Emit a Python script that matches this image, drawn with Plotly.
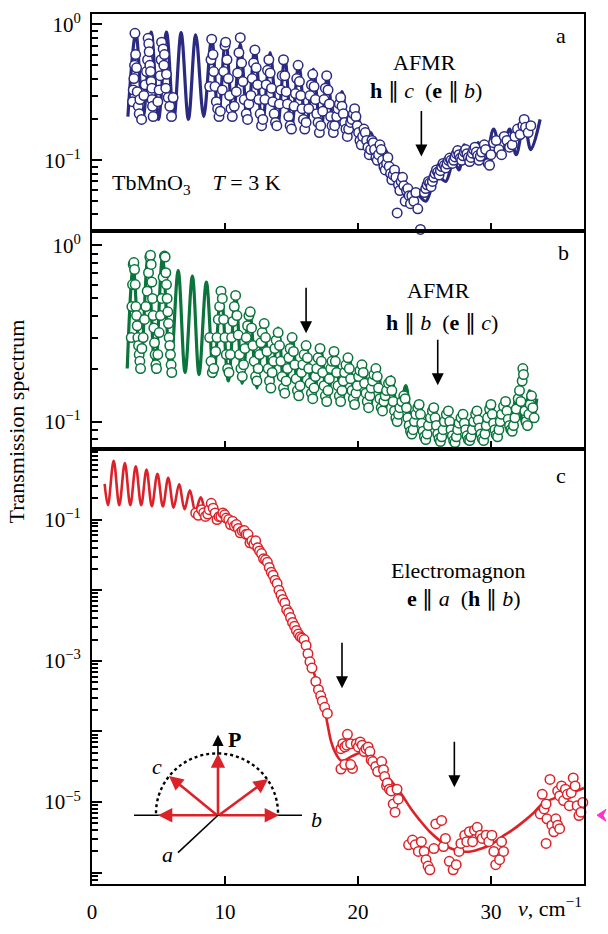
import plotly.graph_objects as go

# ------------------------------------------------------------------ data
# Panel a : AFMR  h || c (e || b)   -- fitted curve (peaks / troughs of fringes)
a_line_x = [2.7, 3.3, 3.85, 4.45, 5.0, 5.6, 6.15, 6.7, 7.25, 7.8, 8.4, 9.0, 9.5, 10.05, 10.6,
            11.15, 11.7, 12.25, 12.8, 13.4, 13.95, 14.5, 15.0, 15.55, 16.1, 16.65, 17.2, 17.7,
            18.25, 18.8, 19.35, 19.9, 20.4, 20.95, 21.5, 22.05, 22.6, 23.1, 23.6, 24.0, 24.5,
            25.1, 25.6, 26.1, 26.6, 27.2, 27.6, 28.0, 28.5, 29.05, 29.6, 30.2, 30.8, 31.4, 31.9,
            32.5, 33.0, 33.7]
a_line_y = [0.21, 0.86, 0.21, 0.88, 0.2, 0.88, 0.2, 0.87, 0.2, 0.84, 0.21, 0.8, 0.2, 0.78, 0.2,
            0.72, 0.19, 0.68, 0.18, 0.62, 0.175, 0.57, 0.17, 0.51, 0.165, 0.47, 0.16, 0.41,
            0.155, 0.32, 0.15, 0.24, 0.14, 0.16, 0.115, 0.12, 0.085, 0.08, 0.052, 0.047, 0.055,
            0.05, 0.065, 0.075, 0.07, 0.1, 0.085, 0.13, 0.093, 0.135, 0.1, 0.17, 0.11, 0.17, 0.11,
            0.19, 0.12, 0.2]

# measured points (x, T)
a_pts_left = [(3.05, 0.27), (3.1, 0.33), (3.15, 0.4), (3.2, 0.5), (3.23, 0.86), (3.28, 0.6),
              (3.35, 0.48), (3.4, 0.32), (3.48, 0.25), (3.55, 0.22), (3.6, 0.28), (3.73, 0.2),
              (3.9, 0.3), (4.0, 0.36), (4.1, 0.45), (4.18, 0.55), (4.22, 0.79), (4.27, 0.72),
              (4.3, 0.63), (4.35, 0.5), (4.4, 0.45), (4.45, 0.38), (4.5, 0.34), (4.52, 0.28),
              (4.55, 0.25), (4.6, 0.21), (4.95, 0.27), (5.05, 0.33), (5.13, 0.42), (5.2, 0.55),
              (5.23, 0.74), (5.35, 0.66), (5.45, 0.6), (5.4, 0.5), (5.6, 0.43), (5.55, 0.34),
              (5.73, 0.29), (5.85, 0.25), (5.98, 0.21), (6.1, 0.29)]
a_pts_fringes = [(8.85, 0.35), (8.95, 0.55), (9.0, 0.78), (9.1, 0.6), (9.15, 0.45), (9.25, 0.35),
                 (9.35, 0.27), (9.45, 0.24), (9.55, 0.21), (9.65, 0.23),
                 (9.8, 0.33), (9.9, 0.45), (10.0, 0.7), (10.05, 0.74), (10.15, 0.55), (10.25, 0.4),
                 (10.35, 0.3), (10.45, 0.24), (10.55, 0.21), (10.7, 0.25),
                 (10.85, 0.32), (10.95, 0.44), (11.05, 0.62), (11.15, 0.8), (11.25, 0.52),
                 (11.35, 0.38), (11.45, 0.28), (11.6, 0.22), (11.7, 0.2), (11.8, 0.26),
                 (11.95, 0.3), (12.05, 0.4), (12.15, 0.52), (12.25, 0.65), (12.35, 0.48),
                 (12.45, 0.36), (12.55, 0.28), (12.65, 0.22), (12.75, 0.18), (12.85, 0.2),
                 (13.0, 0.28), (13.1, 0.36), (13.2, 0.46), (13.3, 0.55), (13.4, 0.44), (13.5, 0.34),
                 (13.6, 0.27), (13.7, 0.22), (13.8, 0.19), (13.9, 0.18),
                 (14.1, 0.26), (14.2, 0.33), (14.3, 0.42), (14.4, 0.55), (14.5, 0.42), (14.6, 0.32),
                 (14.7, 0.26), (14.8, 0.21), (14.9, 0.18), (15.0, 0.17),
                 (15.2, 0.25), (15.3, 0.31), (15.4, 0.4), (15.5, 0.5), (15.6, 0.38), (15.7, 0.3),
                 (15.8, 0.24), (15.9, 0.2), (16.0, 0.17), (16.1, 0.19),
                 (16.3, 0.24), (16.4, 0.3), (16.5, 0.36), (16.6, 0.43), (16.7, 0.35), (16.8, 0.28),
                 (16.9, 0.22), (17.0, 0.19), (17.1, 0.16), (17.2, 0.18),
                 (17.35, 0.23), (17.45, 0.28), (17.55, 0.34), (17.65, 0.42), (17.75, 0.33),
                 (17.85, 0.26), (17.95, 0.21), (18.05, 0.18), (18.15, 0.16), (18.25, 0.18),
                 (18.4, 0.21), (18.5, 0.24), (18.6, 0.26), (18.7, 0.29), (18.8, 0.25), (18.9, 0.22),
                 (19.0, 0.19), (19.1, 0.17), (19.2, 0.15), (19.3, 0.17),
                 (19.45, 0.19), (19.55, 0.2), (19.65, 0.22), (19.75, 0.24), (19.85, 0.21),
                 (19.95, 0.18), (20.05, 0.16), (20.15, 0.14), (20.25, 0.13)]
a_pts_dip = [(20.35, 0.15), (20.45, 0.17), (20.55, 0.16), (20.65, 0.14), (20.75, 0.125),
             (20.85, 0.11), (20.95, 0.12), (21.05, 0.14), (21.15, 0.135), (21.25, 0.12),
             (21.35, 0.105), (21.45, 0.1), (21.55, 0.11), (21.65, 0.13), (21.75, 0.12), (21.85, 0.1),
             (21.95, 0.09), (22.05, 0.085), (22.15, 0.095), (22.25, 0.105), (22.35, 0.09),
             (22.45, 0.08), (22.55, 0.072), (22.65, 0.078), (22.75, 0.085), (22.85, 0.075),
             (22.95, 0.041), (23.05, 0.066), (23.15, 0.06), (23.25, 0.07), (23.35, 0.075),
             (23.45, 0.065), (23.55, 0.05), (23.65, 0.06), (23.75, 0.062), (23.85, 0.055),
             (23.95, 0.048), (24.05, 0.055), (24.2, 0.05), (24.35, 0.058), (24.5, 0.044),
             (24.7, 0.031)]
a_pts_rise = [(25.0, 0.058), (25.1, 0.062), (25.2, 0.066), (25.3, 0.07), (25.4, 0.068),
              (25.5, 0.064), (25.6, 0.07), (25.7, 0.075), (25.8, 0.08), (25.9, 0.085), (26.0, 0.082),
              (26.1, 0.078), (26.2, 0.084), (26.3, 0.09), (26.4, 0.095), (26.5, 0.092), (26.6, 0.088),
              (26.7, 0.094), (26.8, 0.1), (26.9, 0.104), (27.0, 0.1), (27.1, 0.095), (27.2, 0.1),
              (27.3, 0.106), (27.4, 0.112), (27.5, 0.118), (27.6, 0.11), (27.7, 0.104), (27.8, 0.1),
              (27.9, 0.108), (28.0, 0.115), (28.1, 0.12), (28.2, 0.112), (28.3, 0.105), (28.4, 0.098),
              (28.5, 0.105), (28.6, 0.113), (28.7, 0.12), (28.8, 0.125), (28.9, 0.115), (29.0, 0.108),
              (29.1, 0.1), (29.2, 0.107), (29.3, 0.115), (29.5, 0.13), (29.6, 0.12), (29.8, 0.095),
              (29.9, 0.092), (30.0, 0.11), (30.2, 0.135), (30.4, 0.14), (30.6, 0.12), (30.8, 0.11),
              (31.0, 0.15), (31.2, 0.14), (31.4, 0.125), (31.6, 0.13), (31.8, 0.15), (32.0, 0.17),
              (32.2, 0.155), (32.4, 0.18), (32.5, 0.2), (32.6, 0.175), (32.8, 0.16), (33.0, 0.18)]

# Panel b : AFMR  h || b (e || c)
b_line_x = [2.65, 3.1, 3.65, 4.2, 4.75, 5.3, 5.9, 6.48, 7.0, 7.55, 8.05, 8.6, 9.15, 9.7, 10.25,
            10.8, 11.3, 11.85, 12.4, 12.9, 13.45, 14.0, 14.5, 15.05, 15.55, 16.1, 16.65, 17.2,
            17.7, 18.25, 18.8, 19.3, 19.85, 20.4, 20.9, 21.45, 22.0, 22.5, 23.05, 23.6, 24.1,
            24.6, 25.1, 25.6, 26.15, 26.7, 27.2, 27.75, 28.25, 28.8, 29.3, 29.85, 30.35, 30.9,
            31.4, 31.95, 32.45, 32.9, 33.2, 33.45]
b_line_y = [0.2, 0.75, 0.2, 0.85, 0.19, 0.85, 0.19, 0.72, 0.19, 0.67, 0.185, 0.62, 0.18, 0.55, 0.17,
            0.52, 0.165, 0.43, 0.155, 0.37, 0.15, 0.34, 0.14, 0.3, 0.135, 0.27, 0.13, 0.26,
            0.13, 0.25, 0.128, 0.24, 0.125, 0.22, 0.12, 0.2, 0.115, 0.18, 0.105, 0.16, 0.09,
            0.12, 0.083, 0.12, 0.08, 0.115, 0.08, 0.115, 0.08, 0.12, 0.082, 0.125, 0.085, 0.13,
            0.09, 0.14, 0.095, 0.15, 0.105, 0.135]

b_pts_left = [(2.95, 0.3), (3.0, 0.45), (3.05, 0.6), (3.1, 0.78), (3.15, 0.8), (3.2, 0.73),
              (3.25, 0.6), (3.3, 0.45), (3.35, 0.4), (3.4, 0.35), (3.45, 0.3), (3.5, 0.27),
              (3.55, 0.24), (3.6, 0.22), (3.65, 0.2), (3.75, 0.26), (3.85, 0.3),
              (3.95, 0.38), (4.05, 0.45), (4.15, 0.55), (4.25, 0.7), (4.35, 0.86), (4.4, 0.88),
              (4.45, 0.78), (4.5, 0.62), (4.55, 0.5), (4.6, 0.4), (4.65, 0.34), (4.7, 0.28),
              (4.75, 0.24), (4.8, 0.21), (4.85, 0.2), (4.95, 0.24),
              (5.05, 0.32), (5.15, 0.4), (5.25, 0.5), (5.35, 0.66), (5.45, 0.87), (5.5, 0.86),
              (5.55, 0.7), (5.6, 0.6), (5.65, 0.5), (5.7, 0.42), (5.75, 0.36), (5.8, 0.3),
              (5.85, 0.27), (5.9, 0.24), (5.95, 0.21), (6.0, 0.19)]
b_pts_right = [(8.85, 0.3), (8.95, 0.22), (9.05, 0.19), (9.15, 0.2), (9.3, 0.25), (9.4, 0.3),
               (9.5, 0.38), (9.6, 0.45), (9.7, 0.55), (9.8, 0.5), (9.9, 0.38), (10.0, 0.3),
               (10.1, 0.24), (10.2, 0.2),
               (10.3, 0.19), (10.4, 0.24), (10.5, 0.3), (10.6, 0.37), (10.7, 0.45), (10.8, 0.52),
               (10.9, 0.4), (11.0, 0.31), (11.1, 0.24), (11.2, 0.2), (11.3, 0.18),
               (11.4, 0.21), (11.5, 0.26), (11.6, 0.3), (11.7, 0.35), (11.8, 0.4), (11.9, 0.42),
               (12.0, 0.34), (12.1, 0.27), (12.2, 0.22), (12.3, 0.18), (12.4, 0.17),
               (12.5, 0.2), (12.6, 0.24), (12.7, 0.28), (12.8, 0.32), (12.95, 0.36), (13.05, 0.3),
               (13.15, 0.25), (13.25, 0.2), (13.35, 0.17), (13.45, 0.155),
               (13.55, 0.19), (13.65, 0.22), (13.75, 0.26), (13.85, 0.29), (14.0, 0.32), (14.1, 0.27),
               (14.2, 0.22), (14.3, 0.18), (14.4, 0.155), (14.5, 0.145),
               (14.6, 0.17), (14.7, 0.2), (14.8, 0.23), (14.9, 0.26), (15.05, 0.3), (15.15, 0.25),
               (15.25, 0.21), (15.35, 0.175), (15.45, 0.15), (15.55, 0.14),
               (15.65, 0.16), (15.75, 0.19), (15.85, 0.21), (15.95, 0.24), (16.1, 0.27), (16.2, 0.23),
               (16.3, 0.2), (16.4, 0.165), (16.5, 0.145), (16.6, 0.135),
               (16.7, 0.155), (16.8, 0.18), (16.9, 0.2), (17.0, 0.23), (17.15, 0.26), (17.25, 0.22),
               (17.35, 0.19), (17.45, 0.16), (17.55, 0.14), (17.65, 0.13),
               (17.75, 0.15), (17.85, 0.175), (17.95, 0.2), (18.05, 0.22), (18.2, 0.25), (18.3, 0.22),
               (18.4, 0.19), (18.5, 0.16), (18.6, 0.14), (18.7, 0.13),
               (18.8, 0.15), (18.9, 0.17), (19.0, 0.19), (19.1, 0.21), (19.25, 0.23), (19.35, 0.2),
               (19.45, 0.175), (19.55, 0.15), (19.65, 0.135), (19.75, 0.125),
               (19.85, 0.145), (19.95, 0.16), (20.05, 0.18), (20.15, 0.195), (20.3, 0.21), (20.4, 0.19),
               (20.5, 0.165), (20.6, 0.145), (20.7, 0.13), (20.8, 0.12),
               (20.9, 0.14), (21.0, 0.155), (21.1, 0.17), (21.2, 0.185), (21.35, 0.2), (21.45, 0.18),
               (21.55, 0.155), (21.65, 0.135), (21.75, 0.12), (21.85, 0.115),
               (21.95, 0.13), (22.05, 0.14), (22.15, 0.15), (22.3, 0.165), (22.45, 0.17), (22.55, 0.15),
               (22.65, 0.13), (22.75, 0.115), (22.85, 0.105), (22.95, 0.1),
               (23.05, 0.11), (23.15, 0.12), (23.3, 0.13), (23.45, 0.14), (23.55, 0.135), (23.65, 0.12),
               (23.75, 0.105), (23.85, 0.095), (23.95, 0.088), (24.05, 0.085),
               (24.15, 0.09), (24.25, 0.1), (24.35, 0.11), (24.5, 0.12), (24.6, 0.125), (24.7, 0.11),
               (24.8, 0.098), (24.9, 0.088), (25.0, 0.082), (25.1, 0.079),
               (25.2, 0.085), (25.3, 0.095), (25.45, 0.105), (25.6, 0.115), (25.7, 0.12), (25.8, 0.105),
               (25.9, 0.095), (26.0, 0.085), (26.1, 0.08), (26.2, 0.077),
               (26.3, 0.082), (26.4, 0.09), (26.5, 0.1), (26.65, 0.11), (26.8, 0.115), (26.9, 0.1),
               (27.0, 0.09), (27.1, 0.083), (27.2, 0.078), (27.3, 0.076),
               (27.4, 0.082), (27.5, 0.09), (27.6, 0.098), (27.75, 0.105), (27.9, 0.11), (28.0, 0.098),
               (28.1, 0.09), (28.2, 0.083), (28.3, 0.079), (28.4, 0.078),
               (28.5, 0.082), (28.6, 0.09), (28.7, 0.1), (28.85, 0.11), (28.95, 0.115), (29.05, 0.102),
               (29.15, 0.092), (29.25, 0.085), (29.35, 0.08), (29.45, 0.078),
               (29.55, 0.085), (29.65, 0.095), (29.75, 0.105), (29.9, 0.118), (30.0, 0.125), (30.1, 0.11),
               (30.2, 0.098), (30.3, 0.09), (30.4, 0.084), (30.5, 0.082),
               (30.6, 0.09), (30.7, 0.1), (30.8, 0.11), (30.95, 0.122), (31.1, 0.13), (31.2, 0.115),
               (31.3, 0.103), (31.4, 0.095), (31.5, 0.09), (31.6, 0.088),
               (31.7, 0.095), (31.8, 0.105), (31.9, 0.118), (32.05, 0.135), (32.15, 0.15), (32.25, 0.13),
               (32.35, 0.17), (32.4, 0.2), (32.45, 0.185), (32.55, 0.115), (32.65, 0.1), (32.75, 0.095),
               (32.85, 0.11), (32.95, 0.125), (33.05, 0.14), (33.15, 0.12), (33.25, 0.105)]

# Panel c : Electromagnon  e || a (h || b)
c_line_x = [0.95, 1.2, 1.63, 2.05, 2.47, 2.88, 3.29, 3.7, 4.1, 4.5, 4.92, 5.33, 5.73, 6.14, 6.55,
            6.96, 7.36, 7.77, 8.18, 8.6, 9.4, 10.5, 11.5, 12.3, 13.0, 13.6, 14.2, 14.8, 15.3,
            15.8, 16.3, 16.8, 17.1, 17.4, 17.7, 18.0, 18.3, 18.7, 19.0, 19.4, 19.9, 20.3, 20.8,
            21.3, 21.9, 22.5, 23.2, 24.0, 24.6, 25.4, 26.2, 27.0, 27.8, 28.5, 29.3, 30.0, 30.9,
            31.6, 32.4, 33.2, 33.9, 34.7, 35.4, 36.2, 37.0]
c_line_y = [0.32, 0.16, 0.68, 0.16, 0.63, 0.16, 0.57, 0.16, 0.51, 0.155, 0.446, 0.153, 0.39, 0.148,
            0.316, 0.14, 0.26, 0.13, 0.207, 0.125, 0.11, 0.092, 0.07, 0.048, 0.028, 0.016, 0.0095,
            0.0058, 0.0037, 0.0022, 0.0012, 0.00058, 0.00038, 0.00025, 0.00013, 7e-5, 5e-5,
            3.9e-5, 3.9e-5, 4.3e-5, 4.8e-5, 5.0e-5, 4.4e-5, 3.4e-5, 2.6e-5, 2.0e-5, 1.35e-5,
            8e-6, 5.7e-6, 3.8e-6, 2.8e-6, 2.2e-6, 2.0e-6, 2.0e-6, 2.2e-6, 2.5e-6, 3.3e-6,
            4.0e-6, 5.2e-6, 7e-6, 9.6e-6, 1.12e-5, 1.22e-5, 1.38e-5, 1.58e-5]

c_pts_fall = [(7.8, 0.124), (8.0, 0.115), (8.24, 0.138), (8.4, 0.125), (8.53, 0.111), (8.7, 0.12),
              (8.82, 0.138), (8.97, 0.17), (9.11, 0.145), (9.26, 0.124), (9.4, 0.1), (9.55, 0.11),
              (9.69, 0.111), (9.84, 0.124), (9.98, 0.117), (10.1, 0.105), (10.28, 0.1),
              (10.42, 0.085), (10.57, 0.095), (10.71, 0.081), (10.86, 0.085), (11.0, 0.075),
              (11.15, 0.065), (11.3, 0.069), (11.45, 0.07), (11.59, 0.062), (11.73, 0.062),
              (11.88, 0.047), (12.02, 0.05), (12.17, 0.045), (12.31, 0.05), (12.46, 0.04),
              (12.6, 0.036), (12.75, 0.033), (12.9, 0.028), (13.05, 0.027), (13.19, 0.025),
              (13.33, 0.021), (13.48, 0.018), (13.62, 0.0163), (13.77, 0.0139), (13.92, 0.0125),
              (14.06, 0.01), (14.21, 0.0086), (14.35, 0.0074), (14.5, 0.0066), (14.64, 0.0053),
              (14.79, 0.0048), (14.93, 0.0041), (15.08, 0.0035), (15.23, 0.0031), (15.37, 0.0027),
              (15.52, 0.0024), (15.66, 0.0022), (15.8, 0.0021), (15.95, 0.002), (16.1, 0.00165),
              (16.24, 0.00126), (16.39, 0.00097), (16.54, 0.00079), (16.83, 0.00051),
              (17.03, 0.00039), (17.2, 0.00032), (17.32, 0.00027), (17.5, 0.00022), (17.7, 0.00018)]
c_pts_bump = [(18.72, 5.7e-5), (18.72, 2.94e-5), (18.86, 6.7e-5), (19.01, 6.05e-5), (19.16, 6.4e-5),
              (19.21, 9.1e-5), (19.45, 6.7e-5), (19.59, 3.0e-5), (19.01, 3.4e-5), (19.45, 3.4e-5),
              (19.88, 6.7e-5), (20.03, 6.05e-5), (20.17, 7.1e-5), (20.32, 6.4e-5), (20.47, 5.2e-5),
              (20.61, 5.7e-5), (20.76, 6.05e-5), (20.9, 5.2e-5), (20.99, 3.95e-5), (21.11, 3.75e-5),
              (21.34, 3.2e-5), (21.48, 2.7e-5), (21.78, 3.75e-5), (21.92, 2.87e-5), (22.01, 2.3e-5),
              (22.15, 1.69e-5), (22.21, 1.87e-5), (22.36, 1.52e-5), (22.5, 1.44e-5), (22.65, 9.4e-6),
              (22.79, 7.2e-6), (22.94, 1.52e-5), (23.03, 1.1e-5)]
c_pts_min = [(23.81, 2.48e-6), (24.1, 2.9e-6), (24.31, 2.48e-6), (24.54, 2.0e-6), (24.77, 2.75e-6),
             (24.98, 2.0e-6), (25.12, 1.53e-6), (25.27, 1.24e-6), (25.41, 1.1e-6), (25.71, 2.2e-6),
             (25.85, 4.9e-6), (26.29, 5.5e-6), (26.43, 2.35e-6), (26.58, 3.06e-6), (26.87, 1.45e-6),
             (27.16, 1.1e-6), (27.39, 1.3e-6), (27.6, 2.0e-6), (27.74, 2.6e-6), (28.03, 3.4e-6),
             (28.18, 2.75e-6), (28.38, 3.8e-6), (28.62, 2.75e-6), (28.76, 4.0e-6), (28.97, 4.4e-6),
             (29.2, 3.4e-6), (29.34, 3.06e-6), (29.64, 3.4e-6), (29.84, 2.75e-6), (30.07, 3.4e-6),
             (30.22, 2.0e-6), (30.36, 1.3e-6), (30.65, 1.53e-6), (30.95, 2.0e-6), (30.8, 2.75e-6)]
c_pts_end = [(33.71, 6.8e-6), (33.86, 1.29e-5), (34.0, 8.0e-6), (34.15, 9.4e-6), (34.21, 5.8e-6),
             (34.44, 2.09e-5), (34.58, 4.7e-6), (34.73, 3.8e-6), (34.88, 5.8e-6), (35.02, 1.44e-5),
             (35.17, 1.22e-5), (35.31, 1.69e-5), (35.46, 1.05e-5), (35.6, 1.52e-5), (35.75, 1.29e-5),
             (35.9, 8.9e-6), (36.04, 1.36e-5), (36.19, 2.2e-5), (36.33, 1.69e-5), (36.48, 8.9e-6),
             (36.62, 6.45e-6), (36.77, 7.2e-6), (36.91, 9.9e-6), (35.02, 4.7e-6), (35.17, 4.2e-6),
             (34.15, 2.6e-6)]

# resonance arrows: (x position, log10 of arrow tip)
a_arrows = [(24.77, -0.971)]
b_arrows = [(16.1, -0.498), (26.0, -0.794)]
c_arrows = [(18.8, -3.389), (27.25, -4.79)]

# ------------------------------------------------------------------ style / geometry
W, H = 608, 934
ML, MR, MT, MB = 92, 24, 10, 38
PW, PH = W - ML - MR, H - MT - MB

def fx(p):
    return (p - ML) / PW

def fy(p):
    return (H - MB - p) / PH

NAVY, GREEN, RED = "#2A2A80", "#0A743C", "#DC2229"
FONT = "Liberation Serif"

def unzip(*groups):
    xs, ys = [], []
    for g in groups:
        for x, y in g:
            xs.append(x)
            ys.append(y)
    return xs, ys

fig = go.Figure()

panels = [
    ("x", "y", a_line_x, a_line_y, unzip(a_pts_left, a_pts_fringes, a_pts_dip, a_pts_rise), NAVY, 3.2),
    ("x2", "y2", b_line_x, b_line_y, unzip(b_pts_left, b_pts_right), GREEN, 3.2),
    ("x3", "y3", c_line_x, c_line_y, unzip(c_pts_fall, c_pts_bump, c_pts_min, c_pts_end), RED, 2.6),
]
for xa, ya, lx, ly, (px_, py_), col, lw in panels:
    fig.add_trace(go.Scatter(x=lx, y=ly, mode="lines", xaxis=xa, yaxis=ya,
                             line=dict(color=col, width=lw, shape="spline", smoothing=1.0),
                             hoverinfo="skip"))
    fig.add_trace(go.Scatter(x=px_, y=py_, mode="markers", xaxis=xa, yaxis=ya, cliponaxis=False,
                             marker=dict(symbol="circle", size=9.5, color="white",
                                         line=dict(color=col, width=1.5)),
                             hoverinfo="skip"))

def sup(e):
    return "10<sup>%s</sup>" % (str(e).replace("-", "\u2212"))

minor_vals = [m * 10.0 ** e for e in range(-7, 1) for m in range(2, 10)]

def yax(domain, rng, major_exps, label_exps):
    return dict(type="log", domain=domain, range=rng, showgrid=False, zeroline=False,
                showline=True, mirror=True, linecolor="black", linewidth=2,
                ticks="inside", ticklen=10, tickwidth=2, tickcolor="black",
                tickmode="array", tickvals=[10.0 ** e for e in major_exps],
                ticktext=[sup(e) if e in label_exps else "" for e in major_exps],
                ticklabelstandoff=5,
                tickfont=dict(family=FONT, size=21, color="black"),
                minor=dict(tickmode="array", tickvals=minor_vals, ticks="inside",
                           ticklen=6, tickwidth=1.6, tickcolor="black", showgrid=False))

def xax(anchor, labels):
    d = dict(anchor=anchor, domain=[0, 1], range=[0, 37.0], showgrid=False, zeroline=False,
             showline=True, mirror=True, linecolor="black", linewidth=2,
             ticks="inside", ticklen=8, tickwidth=2, tickcolor="black",
             tickmode="array", tickvals=[0, 10, 20, 30])
    if labels:
        d.update(ticktext=["0", "10", "20", "30"], showticklabels=True, ticklabelstandoff=8,
                 tickfont=dict(family=FONT, size=21, color="black"))
    else:
        d.update(showticklabels=False)
    return d

dom_a = [fy(231), 1.0]
dom_b = [fy(452.7), fy(231)]
dom_c = [0.0, fy(452.7)]

fig.update_layout(
    width=W, height=H, margin=dict(l=ML, r=MR, t=MT, b=MB),
    paper_bgcolor="white", plot_bgcolor="white", showlegend=False,
    font=dict(family=FONT, size=22, color="black"),
    xaxis=xax("y", False), xaxis2=xax("y2", False), xaxis3=xax("y3", True),
    yaxis=dict(yax(dom_a, [-1.52, 0.077], [0, -1], [0, -1]), anchor="x"),
    yaxis2=dict(yax(dom_b, [-1.154, 0.082], [0, -1], [0, -1]), anchor="x2"),
    yaxis3=dict(yax(dom_c, [-6.16, 0.004], [0, -1, -2, -3, -4, -5, -6], [-1, -3, -5]), anchor="x3"),
)

ann = []

def text(px, py, s, size=22, xanchor="center", **kw):
    ann.append(dict(x=fx(px), y=fy(py), xref="paper", yref="paper", text=s, showarrow=False,
                    xanchor=xanchor, yanchor="middle",
                    font=dict(family=FONT, size=size, color="black"), **kw))

text(561, 32, "a")
text(563, 253, "b")
text(561, 480, "c")
text(424, 59, "AFMR")
text(426, 88, "<b>h</b> \u2225 <i>c</i>  (<b>e</b> \u2225 <i>b</i>)")
text(110, 183, "TbMnO<sub>3</sub>    <i>T</i> = 3 K", xanchor="left")
text(438, 292, "AFMR")
text(442, 324, "<b>h</b> \u2225 <i>b</i>  (<b>e</b> \u2225 <i>c</i>)")
text(458, 577, "Electromagnon")
text(464, 605, "<b>e</b> \u2225 <i>a</i>  (<b>h</b> \u2225 <i>b</i>)")
text(584, 919, "<i>\u03bd</i>, cm<sup>\u22121</sup>", xanchor="right")
text(17, 425, "Transmission spectrum", textangle=-90)
# inset labels
text(234, 749, "<b>P</b>")
text(157, 776, "<i>c</i>")
text(316, 830, "<i>b</i>")
text(167, 866, "<i>a</i>")

# resonance arrows
for xa, ya, arr in (("x", "y", a_arrows), ("x2", "y2", b_arrows), ("x3", "y3", c_arrows)):
    for xv, lv in arr:
        ann.append(dict(x=xv, y=lv, xref=xa, yref=ya, ax=0, ay=-47, text="", showarrow=True,
                        arrowhead=2, arrowsize=1.5, arrowwidth=1.6, arrowcolor="black"))

# inset vectors
O = (218, 826)
def vec(tip, color, width, size):
    ann.append(dict(x=fx(tip[0]), y=fy(tip[1]), xref="paper", yref="paper",
                    ax=O[0] - tip[0], ay=O[1] - tip[1], text="", showarrow=True,
                    arrowhead=2, arrowsize=size, arrowwidth=width, arrowcolor=color))

vec((218, 744), "black", 1.6, 1.4)
for tip in [(158, 826), (279, 826), (218, 763), (169, 786), (268, 789)]:
    vec(tip, RED, 2.6, 1.1)

shapes = []
shapes.append(dict(type="line", xref="paper", yref="paper", x0=fx(134), y0=fy(826),
                   x1=fx(302), y1=fy(826), line=dict(color="black", width=1.6), layer="below"))
shapes.append(dict(type="line", xref="paper", yref="paper", x0=fx(218), y0=fy(826),
                   x1=fx(178), y1=fy(864), line=dict(color="black", width=1.6)))
cx, cy, r = 217, 824, 61
k = 0.5523 * r
pts = [(cx - r, cy), (cx - r, cy - k), (cx - k, cy - r), (cx, cy - r),
       (cx + k, cy - r), (cx + r, cy - k), (cx + r, cy)]
P = ["%.5f,%.5f" % (fx(a), fy(b)) for a, b in pts]
arc = "M %s C %s %s %s C %s %s %s" % tuple(P)
shapes.append(dict(type="path", xref="paper", yref="paper", path=arc,
                   line=dict(color="black", width=2.4, dash="dot")))
# small magenta marker at the right edge
mag = [(597, 826), (606, 820), (603, 826), (606, 832)]
M = ["%.5f,%.5f" % (fx(a), fy(b)) for a, b in mag]
shapes.append(dict(type="path", xref="paper", yref="paper",
                   path="M %s L %s L %s L %s Z" % tuple(M),
                   fillcolor="#FF2FD0", line=dict(color="#FF2FD0", width=1)))

fig.update_layout(annotations=ann, shapes=shapes)
fig.write_html("out.html")
